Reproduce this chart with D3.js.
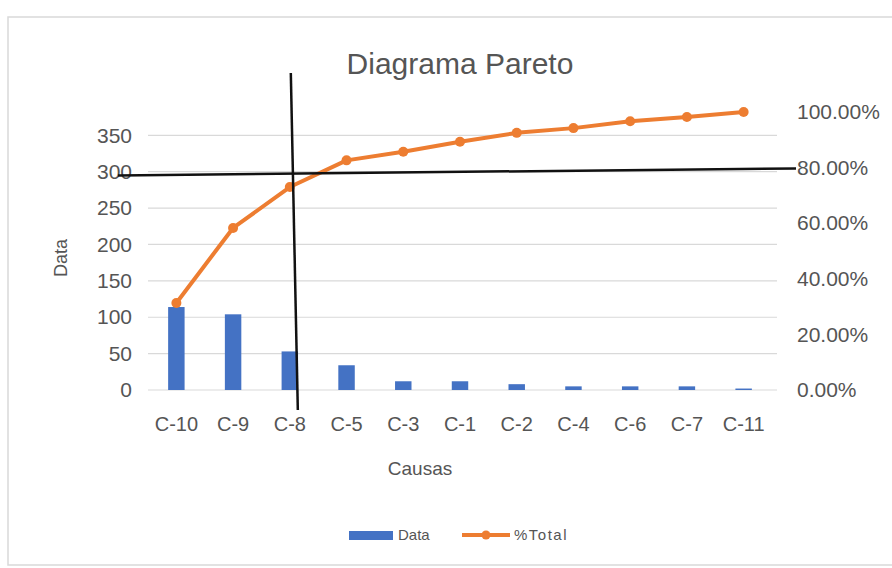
<!DOCTYPE html>
<html>
<head>
<meta charset="utf-8">
<script src="https://cdn.jsdelivr.net/npm/d3@7"></script>
<style>
  html, body { margin: 0; padding: 0; background: #ffffff; }
  svg { display: block; font-family: "Liberation Sans", Arial, sans-serif; }
</style>
</head>
<body>
<svg id="chart" width="892" height="568"></svg>
<script>
// Causes sorted by frequency, their counts and the cumulative share
const categories = ["C-10", "C-9", "C-8", "C-5", "C-3", "C-1", "C-2", "C-4", "C-6", "C-7", "C-11"];
const counts = [114, 104, 53, 34, 12, 12, 8, 5, 5, 5, 2];
const cumulative = [0.313, 0.583, 0.73, 0.826, 0.857, 0.893, 0.925, 0.942, 0.967, 0.982, 1.0];
const leftTicks = [0, 50, 100, 150, 200, 250, 300, 350];
const rightTicks = [0, 0.2, 0.4, 0.6, 0.8, 1.0];
// 80% cut-off guides (share at the left and right ends of the horizontal guide)
const cutoffShare = [0.772, 0.797];
const cutoffCategory = "C-8";

const svg = d3.select("#chart");
const textColor = "#555555";

// chart frame
svg.append("rect")
  .attr("x", 8).attr("y", 17).attr("width", 900).attr("height", 548)
  .attr("fill", "#fff").attr("stroke", "#d9d9d9").attr("stroke-width", 1.5);

const plot = { left: 148, right: 772, top: 112, bottom: 390 };

const x = d3.scaleBand().domain(categories).range([plot.left, plot.right]).paddingInner(0.71).paddingOuter(0.355);
const yLeft = d3.scaleLinear().domain([0, 382]).range([plot.bottom, plot.top]);
const yRight = d3.scaleLinear().domain([0, 1]).range([plot.bottom, plot.top]);

// title
svg.append("text")
  .attr("x", 460).attr("y", 74)
  .attr("text-anchor", "middle")
  .attr("font-size", 30).attr("fill", textColor)
  .text("Diagrama Pareto");

// gridlines
svg.append("g")
  .selectAll("line").data(leftTicks).join("line")
  .attr("x1", plot.left).attr("x2", plot.right + 5)
  .attr("y1", d => yLeft(d)).attr("y2", d => yLeft(d))
  .attr("stroke", "#d9d9d9").attr("stroke-width", 1.2);

// left axis
const leftAxis = svg.append("g")
  .attr("transform", `translate(${plot.left - 16},0)`)
  .call(d3.axisLeft(yLeft).tickValues(leftTicks).tickSize(0).tickPadding(0));
leftAxis.select(".domain").remove();
leftAxis.selectAll("text").attr("font-size", 21).attr("fill", textColor);

// right axis
const rightAxis = svg.append("g")
  .attr("transform", `translate(${plot.right + 25},0)`)
  .call(d3.axisRight(yRight).tickValues(rightTicks).tickSize(0).tickPadding(0)
    .tickFormat(d => d3.format(".2f")(d * 100) + "%"));
rightAxis.select(".domain").remove();
rightAxis.selectAll("text").attr("font-size", 21).attr("fill", textColor);

// bottom axis
const bottomAxis = svg.append("g")
  .attr("transform", `translate(0,${plot.bottom + 27})`)
  .call(d3.axisBottom(x).tickSize(0).tickPadding(0));
bottomAxis.select(".domain").remove();
bottomAxis.selectAll("text").attr("font-size", 20).attr("fill", textColor);

// axis titles
svg.append("text")
  .attr("transform", "translate(67,258) rotate(-90)")
  .attr("text-anchor", "middle")
  .attr("font-size", 18).attr("fill", textColor)
  .text("Data");
svg.append("text")
  .attr("x", 420).attr("y", 475)
  .attr("text-anchor", "middle")
  .attr("font-size", 19).attr("fill", textColor)
  .text("Causas");

// bars
svg.append("g")
  .selectAll("rect").data(categories).join("rect")
  .attr("x", d => x(d))
  .attr("y", (d, i) => yLeft(counts[i]))
  .attr("width", x.bandwidth())
  .attr("height", (d, i) => plot.bottom - yLeft(counts[i]))
  .attr("fill", "#4472c4");

// cumulative line
const linePts = categories.map((c, i) => [x(c) + x.bandwidth() / 2, yRight(cumulative[i])]);
svg.append("path")
  .attr("d", d3.line()(linePts))
  .attr("fill", "none").attr("stroke", "#ed7d31").attr("stroke-width", 4)
  .attr("stroke-linejoin", "round");
svg.append("g")
  .selectAll("circle").data(linePts).join("circle")
  .attr("cx", d => d[0]).attr("cy", d => d[1]).attr("r", 5)
  .attr("fill", "#ed7d31");

// 80% cut-off guides
const cx = x(cutoffCategory) + x.bandwidth() / 2;
svg.append("line")
  .attr("x1", 118).attr("x2", plot.right + 24)
  .attr("y1", yRight(cutoffShare[0])).attr("y2", yRight(cutoffShare[1]))
  .attr("stroke", "#111").attr("stroke-width", 2.5);
svg.append("line")
  .attr("x1", cx + 1).attr("x2", cx + 8)
  .attr("y1", 73).attr("y2", plot.bottom + 20)
  .attr("stroke", "#111").attr("stroke-width", 2.5);

// legend
const legend = svg.append("g").attr("transform", "translate(349,535)");
legend.append("rect").attr("x", 0).attr("y", -4).attr("width", 44).attr("height", 9).attr("fill", "#4472c4");
legend.append("text").attr("x", 49).attr("y", 5).attr("font-size", 15).attr("fill", textColor).text("Data");
legend.append("line").attr("x1", 113).attr("x2", 161).attr("y1", 0).attr("y2", 0)
  .attr("stroke", "#ed7d31").attr("stroke-width", 4);
legend.append("circle").attr("cx", 137).attr("cy", 0).attr("r", 4.5).attr("fill", "#ed7d31");
legend.append("text").attr("x", 165).attr("y", 5).attr("font-size", 15).attr("fill", textColor)
  .attr("letter-spacing", 1.5).text("%Total");
</script>
</body>
</html>
